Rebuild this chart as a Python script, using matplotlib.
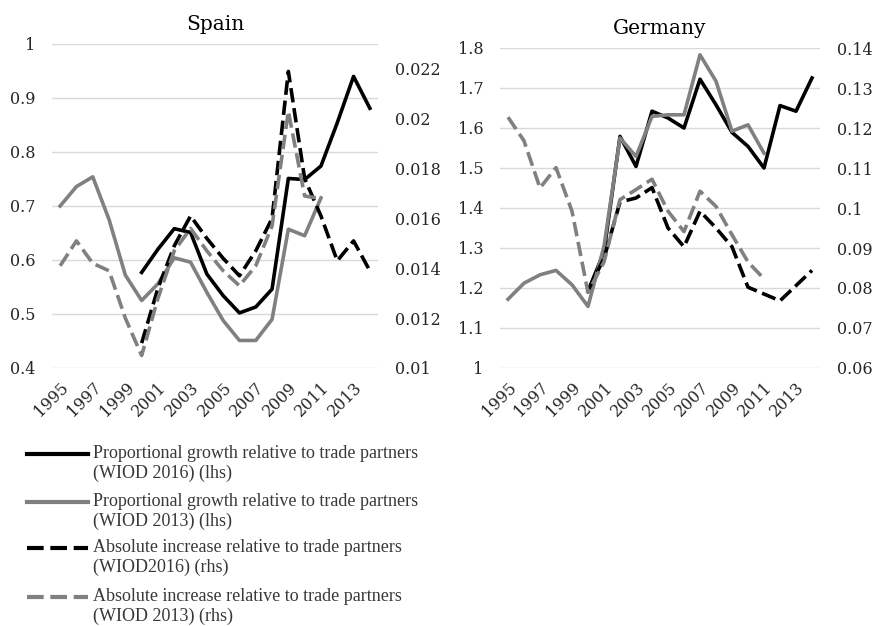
import matplotlib
matplotlib.use('Agg')
import matplotlib.pyplot as plt
from matplotlib.lines import Line2D

# categories
years_wiod2013 = list(range(1995, 2012))
years_wiod2016 = list(range(2000, 2015))
tick_years = [1995, 1997, 1999, 2001, 2003, 2005, 2007, 2009, 2011, 2013]

# Spain
spain_prop_2016 = [0.577, 0.620, 0.658, 0.651, 0.574, 0.534, 0.502, 0.513, 0.546,
                   0.751, 0.749, 0.774, 0.854, 0.940, 0.881]
spain_prop_2013 = [0.700, 0.736, 0.754, 0.675, 0.572, 0.525, 0.556, 0.604, 0.596,
                   0.540, 0.488, 0.451, 0.451, 0.490, 0.657, 0.645, 0.715]
spain_abs_2016 = [0.0110, 0.0132, 0.0149, 0.0161, 0.0152, 0.0144, 0.0137, 0.0147,
                  0.0160, 0.0219, 0.0176, 0.0161, 0.0143, 0.0151, 0.0139]
spain_abs_2013 = [0.0141, 0.0151, 0.0142, 0.0139, 0.0120, 0.0105, 0.0128, 0.0147,
                  0.0156, 0.0147, 0.0139, 0.0133, 0.0141, 0.0157, 0.0203, 0.0169, 0.0168]

# Germany
germany_prop_2016 = [1.192, 1.290, 1.579, 1.504, 1.642, 1.625, 1.600, 1.722, 1.658,
                     1.589, 1.554, 1.500, 1.656, 1.642, 1.725]
germany_prop_2013 = [1.172, 1.212, 1.233, 1.244, 1.208, 1.154, 1.304, 1.575, 1.529,
                     1.629, 1.633, 1.633, 1.783, 1.717, 1.592, 1.608, 1.537]
germany_abs_2016 = [0.0794, 0.0874, 0.1015, 0.1025, 0.1051, 0.0950, 0.0903, 0.0992,
                    0.0950, 0.0903, 0.0802, 0.0785, 0.0768, 0.0806, 0.0844]
germany_abs_2013 = [0.1227, 0.1168, 0.1050, 0.1101, 0.0992, 0.0789, 0.0865, 0.1021,
                    0.1046, 0.1072, 0.0992, 0.0941, 0.1042, 0.1004, 0.0933, 0.0865, 0.0823]

legend_labels = [
    'Proportional growth relative to trade partners\n(WIOD 2016) (lhs)',
    'Proportional growth relative to trade partners\n(WIOD 2013) (lhs)',
    'Absolute increase relative to trade partners\n(WIOD2016) (rhs)',
    'Absolute increase relative to trade partners\n(WIOD 2013) (rhs)',
]

BLACK = '#000000'
GRAY = '#808080'
GRID = '#d9d9d9'
TXT = '#262626'
DASH = (4, 1.6)
LW = 2.6

plt.rcParams['font.family'] = 'DejaVu Serif'

W, H = 875, 626
fig = plt.figure(figsize=(W / 100, H / 100), dpi=100)


def px_axes(x0, y0, x1, y1):
    # box given in image pixels, top-left origin
    return fig.add_axes([x0 / W, 1 - y1 / H, (x1 - x0) / W, (y1 - y0) / H])


def draw_panel(ax, title, prop16, prop13, abs16, abs13,
               lhs_lim, lhs_ticks, rhs_lim, rhs_ticks, rhs_labels):
    ax.plot(years_wiod2016, prop16, color=BLACK, lw=LW, solid_joinstyle='round')
    ax.plot(years_wiod2013, prop13, color=GRAY, lw=LW, solid_joinstyle='round')
    ax.set_xlim(1994.5, 2014.5)
    ax.set_ylim(*lhs_lim)
    ax.set_yticks(lhs_ticks)
    ax.set_yticklabels([f'{t:g}' for t in lhs_ticks])
    ax.set_xticks(tick_years)
    ax.set_xticklabels([str(y) for y in tick_years], rotation=45, ha='right',
                       va='top', rotation_mode='anchor')
    ax.grid(axis='y', color=GRID, lw=1.0)
    ax.set_axisbelow(True)
    ax.tick_params(axis='both', length=0, labelsize=11.5, colors=TXT)
    ax.tick_params(axis='y', pad=12)
    ax.tick_params(axis='x', pad=8)
    for s in ax.spines.values():
        s.set_visible(False)
    ax.set_title(title, fontsize=14.5, color=BLACK, pad=10)

    ax2 = ax.twinx()
    ax2.plot(years_wiod2016, abs16, color=BLACK, lw=LW, dashes=DASH)
    ax2.plot(years_wiod2013, abs13, color=GRAY, lw=LW, dashes=DASH)
    ax2.set_ylim(*rhs_lim)
    ax2.set_yticks(rhs_ticks)
    ax2.set_yticklabels(rhs_labels)
    ax2.tick_params(axis='y', length=0, labelsize=11.5, colors=TXT, pad=12)
    for s in ax2.spines.values():
        s.set_visible(False)
    return ax2


ax_es = px_axes(52, 44, 378, 368)
draw_panel(ax_es, 'Spain', spain_prop_2016, spain_prop_2013, spain_abs_2016, spain_abs_2013,
           (0.4, 1.0), [0.4, 0.5, 0.6, 0.7, 0.8, 0.9, 1.0],
           (0.01, 0.023), [0.01, 0.012, 0.014, 0.016, 0.018, 0.02, 0.022],
           ['0.01', '0.012', '0.014', '0.016', '0.018', '0.02', '0.022'])

ax_de = px_axes(500, 48, 820, 368)
draw_panel(ax_de, 'Germany', germany_prop_2016, germany_prop_2013, germany_abs_2016, germany_abs_2013,
           (1.0, 1.8), [1.0, 1.1, 1.2, 1.3, 1.4, 1.5, 1.6, 1.7, 1.8],
           (0.06, 0.14), [0.06, 0.07, 0.08, 0.09, 0.10, 0.11, 0.12, 0.13, 0.14],
           ['0.06', '0.07', '0.08', '0.09', '0.1', '0.11', '0.12', '0.13', '0.14'])

# legend drawn by hand so each handle sits on the first text line
legend_styles = [(BLACK, None), (GRAY, None), (BLACK, DASH), (GRAY, DASH)]
legend_rows = [454, 502, 548, 597]
for (color, dash), row, label in zip(legend_styles, legend_rows, legend_labels):
    yf = 1 - row / H
    ln = Line2D([27 / W, 88 / W], [yf, yf], transform=fig.transFigure,
                color=color, lw=3.0)
    if dash is not None:
        ln.set_dashes(dash)
    fig.add_artist(ln)
    fig.text(93 / W, 1 - (row - 9) / H, label, family='Liberation Serif',
             fontsize=13, color='#383838', va='top', ha='left', linespacing=1.2)

fig.savefig('out.png', dpi=100)
